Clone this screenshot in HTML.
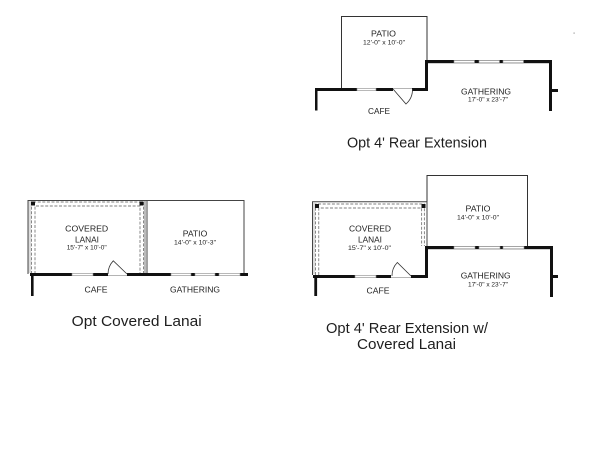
<!DOCTYPE html>
<html><head><meta charset="utf-8"><style>
html,body{margin:0;padding:0;background:#fff;}
svg{display:block;}
text{font-family:"Liberation Sans",Arial,sans-serif;fill:#222;}
.l{font-size:8.6px;}
.d{font-size:6.5px;}
.c{font-size:15.2px;fill:#1e1e1e;}
</style></head><body>
<svg width="606" height="454" viewBox="0 0 606 454" xmlns="http://www.w3.org/2000/svg">
<rect width="606" height="454" fill="#fff"/>

<!-- ===== Diagram 1: Opt 4' Rear Extension ===== -->
<path d="M341.5 88 V16.5 H427 V60" fill="none" stroke="#333" stroke-width="1"/>
<rect x="315" y="88" width="42" height="3" fill="#111"/>
<rect x="376" y="88" width="17" height="3" fill="#111"/>
<rect x="412" y="88" width="16" height="3" fill="#111"/>
<rect x="357" y="88.3" width="19" height="2.4" fill="#fff" stroke="#888" stroke-width="0.6"/>
<rect x="315" y="88" width="2.5" height="22.5" fill="#111"/>
<line x1="393" y1="88.6" x2="412" y2="88.6" stroke="#888" stroke-width="0.6"/>
<path d="M393 89 L406 104 A19.5 19.5 0 0 0 412.5 89" fill="none" stroke="#333" stroke-width="0.8"/>
<rect x="425" y="60" width="3" height="31" fill="#111"/>
<rect x="425" y="60" width="127" height="3.2" fill="#111"/>
<rect x="454" y="60.4" width="20.5" height="2.4" fill="#fff" stroke="#888" stroke-width="0.6"/>
<rect x="479" y="60.4" width="20.5" height="2.4" fill="#fff" stroke="#888" stroke-width="0.6"/>
<rect x="503" y="60.4" width="20.5" height="2.4" fill="#fff" stroke="#888" stroke-width="0.6"/>
<rect x="549" y="60" width="3" height="51" fill="#111"/>
<rect x="549" y="89" width="9" height="3" fill="#111"/>
<text class="l" x="383.5" y="36.7" text-anchor="middle" textLength="25" lengthAdjust="spacingAndGlyphs">PATIO</text>
<text class="d" x="384" y="44.3" text-anchor="middle" textLength="42" lengthAdjust="spacingAndGlyphs">12'-0" x 10'-0"</text>
<text class="l" x="486" y="94.3" text-anchor="middle" textLength="50" lengthAdjust="spacingAndGlyphs">GATHERING</text>
<text class="d" x="488" y="101.7" text-anchor="middle" textLength="40" lengthAdjust="spacingAndGlyphs">17'-0" x 23'-7"</text>
<text class="l" x="379" y="114" text-anchor="middle" textLength="22" lengthAdjust="spacingAndGlyphs">CAFE</text>
<text class="c" x="417" y="147.6" text-anchor="middle" textLength="140" lengthAdjust="spacingAndGlyphs">Opt 4' Rear Extension</text>
<rect x="573.5" y="32.5" width="1.2" height="1.2" fill="#999"/>

<!-- ===== Diagram 2: Opt Covered Lanai ===== -->
<path d="M28 274 V200.5 H244 V274" fill="none" stroke="#444" stroke-width="1"/>
<line x1="145" y1="200.5" x2="145" y2="274" stroke="#555" stroke-width="0.8"/>
<line x1="147" y1="200.5" x2="147" y2="274" stroke="#444" stroke-width="1"/>
<rect x="28.5" y="201" width="2.5" height="72" fill="#ddd"/>
<path d="M31.5 274 V202 H143.5 V274" fill="none" stroke="#555" stroke-width="0.7" stroke-dasharray="3 1.6"/>
<path d="M35 274 V206 H140 V274" fill="none" stroke="#555" stroke-width="0.7" stroke-dasharray="3 1.6"/>
<rect x="31" y="201.5" width="4" height="4" fill="#111"/>
<rect x="139.5" y="201.5" width="4" height="4" fill="#111"/>
<rect x="30" y="273" width="42" height="3" fill="#111"/>
<rect x="93" y="273" width="15" height="3" fill="#111"/>
<rect x="127" y="273" width="121" height="3" fill="#111"/>
<rect x="72" y="273.3" width="21" height="2.4" fill="#fff" stroke="#888" stroke-width="0.6"/>
<rect x="171" y="273.3" width="20" height="2.4" fill="#fff" stroke="#888" stroke-width="0.6"/>
<rect x="195" y="273.3" width="20" height="2.4" fill="#fff" stroke="#888" stroke-width="0.6"/>
<rect x="219" y="273.3" width="21" height="2.4" fill="#fff" stroke="#888" stroke-width="0.6"/>
<rect x="31" y="273" width="2.6" height="23" fill="#111"/>
<line x1="108" y1="275.4" x2="127" y2="275.4" stroke="#888" stroke-width="0.6"/>
<path d="M127 274 L113.3 260.8 A19 19 0 0 0 108 274" fill="none" stroke="#333" stroke-width="0.8"/>
<text class="l" x="86.7" y="231.7" text-anchor="middle" textLength="43" lengthAdjust="spacingAndGlyphs">COVERED</text>
<text class="l" x="87" y="242.7" text-anchor="middle" textLength="24" lengthAdjust="spacingAndGlyphs">LANAI</text>
<text class="d" x="86.7" y="249.5" text-anchor="middle" textLength="40" lengthAdjust="spacingAndGlyphs">15'-7" x 10'-0"</text>
<text class="l" x="195" y="236.7" text-anchor="middle" textLength="24.5" lengthAdjust="spacingAndGlyphs">PATIO</text>
<text class="d" x="195" y="244.5" text-anchor="middle" textLength="42" lengthAdjust="spacingAndGlyphs">14'-0" x 10'-3"</text>
<text class="l" x="96" y="292.3" text-anchor="middle" textLength="23" lengthAdjust="spacingAndGlyphs">CAFE</text>
<text class="l" x="195" y="292.3" text-anchor="middle" textLength="50" lengthAdjust="spacingAndGlyphs">GATHERING</text>
<text class="c" x="136.7" y="326" text-anchor="middle" textLength="130" lengthAdjust="spacingAndGlyphs">Opt Covered Lanai</text>

<!-- ===== Diagram 3: Opt 4' Rear Extension w/ Covered Lanai ===== -->
<path d="M427 246 V175.5 H527.5 V246" fill="none" stroke="#333" stroke-width="1"/>
<path d="M312.5 275 V201.8 H427 V246" fill="none" stroke="#444" stroke-width="1"/>
<rect x="313" y="202.3" width="2" height="72" fill="#ddd"/>
<path d="M315.5 275 V204 H424.3 V246" fill="none" stroke="#555" stroke-width="0.7" stroke-dasharray="3 1.6"/>
<path d="M318.8 275 V208 H421.7 V246" fill="none" stroke="#555" stroke-width="0.7" stroke-dasharray="3 1.6"/>
<rect x="315" y="204" width="4" height="4" fill="#111"/>
<rect x="421.5" y="204" width="4" height="4" fill="#111"/>
<rect x="313" y="275" width="42" height="3" fill="#111"/>
<rect x="376" y="275" width="15" height="3" fill="#111"/>
<rect x="411" y="275" width="17" height="3" fill="#111"/>
<rect x="355" y="275.3" width="21" height="2.4" fill="#fff" stroke="#888" stroke-width="0.6"/>
<rect x="314.3" y="275" width="2.8" height="21" fill="#111"/>
<line x1="391" y1="277.4" x2="411" y2="277.4" stroke="#888" stroke-width="0.6"/>
<path d="M411 276 L397.3 262.5 A19 19 0 0 0 392 276" fill="none" stroke="#333" stroke-width="0.8"/>
<rect x="425" y="246" width="3" height="32" fill="#111"/>
<rect x="425" y="246" width="128" height="3.2" fill="#111"/>
<rect x="454" y="246.4" width="21" height="2.4" fill="#fff" stroke="#888" stroke-width="0.6"/>
<rect x="479" y="246.4" width="21" height="2.4" fill="#fff" stroke="#888" stroke-width="0.6"/>
<rect x="503" y="246.4" width="21" height="2.4" fill="#fff" stroke="#888" stroke-width="0.6"/>
<rect x="550" y="246" width="3" height="51" fill="#111"/>
<rect x="550" y="275" width="8" height="3" fill="#111"/>
<text class="l" x="478" y="211.7" text-anchor="middle" textLength="25" lengthAdjust="spacingAndGlyphs">PATIO</text>
<text class="d" x="478" y="219.5" text-anchor="middle" textLength="42" lengthAdjust="spacingAndGlyphs">14'-0" x 10'-0"</text>
<text class="l" x="370" y="231.7" text-anchor="middle" textLength="42" lengthAdjust="spacingAndGlyphs">COVERED</text>
<text class="l" x="370" y="242.7" text-anchor="middle" textLength="24" lengthAdjust="spacingAndGlyphs">LANAI</text>
<text class="d" x="369.5" y="250" text-anchor="middle" textLength="43" lengthAdjust="spacingAndGlyphs">15'-7" x 10'-0"</text>
<text class="l" x="485.7" y="278.3" text-anchor="middle" textLength="50" lengthAdjust="spacingAndGlyphs">GATHERING</text>
<text class="d" x="488" y="286.7" text-anchor="middle" textLength="40" lengthAdjust="spacingAndGlyphs">17'-0" x 23'-7"</text>
<text class="l" x="378" y="293.3" text-anchor="middle" textLength="23" lengthAdjust="spacingAndGlyphs">CAFE</text>
<text class="c" x="407" y="333" text-anchor="middle" textLength="162" lengthAdjust="spacingAndGlyphs">Opt 4' Rear Extension w/</text>
<text class="c" x="406.5" y="349" text-anchor="middle" textLength="99" lengthAdjust="spacingAndGlyphs">Covered Lanai</text>
</svg>
</body></html>
